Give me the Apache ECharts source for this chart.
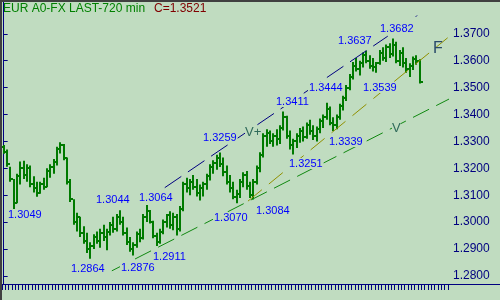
<!DOCTYPE html>
<html>
<head>
<meta charset="utf-8">
<script src="https://cdn.jsdelivr.net/npm/echarts@6/dist/echarts.min.js"></script>
<style>
  html, body { margin: 0; padding: 0; background: #c0dcc0; }
  #chart { width: 500px; height: 300px; }
</style>
</head>
<body>
<div id="chart"></div>
<script>
// 720 min bars
const opens = [
  1.3280, 1.3262, 1.3215, 1.3160, 1.3070, 1.3170, 1.3200, 1.3175, 1.3200, 1.3140,
  1.3125, 1.3110, 1.3140, 1.3130, 1.3190, 1.3205, 1.3225, 1.3270, 1.3285, 1.3240,
  1.3150, 1.3085, 1.3000, 1.3020, 1.2960, 1.2930, 1.2900, 1.2910, 1.2945, 1.2930,
  1.2960, 1.2945, 1.2965, 1.2990, 1.2975, 1.3020, 1.3000, 1.2960, 1.2925, 1.2900,
  1.2915, 1.2955, 1.2940, 1.3020, 1.3040, 1.3000, 1.2950, 1.2925, 1.2965, 1.3000,
  1.3025, 1.2990, 1.3020, 1.2975, 1.3050, 1.3140, 1.3125, 1.3150, 1.3130, 1.3110,
  1.3125, 1.3140, 1.3170, 1.3205, 1.3220, 1.3240, 1.3215, 1.3185, 1.3150, 1.3125,
  1.3095, 1.3105, 1.3150, 1.3175, 1.3135, 1.3100, 1.3150, 1.3200, 1.3250, 1.3320,
  1.3330, 1.3300, 1.3320, 1.3310, 1.3350, 1.3390, 1.3320, 1.3285, 1.3300, 1.3320,
  1.3340, 1.3315, 1.3360, 1.3340, 1.3320, 1.3345, 1.3375, 1.3390, 1.3420, 1.3370,
  1.3360, 1.3390, 1.3430, 1.3460, 1.3500, 1.3540, 1.3580, 1.3570, 1.3590, 1.3620,
  1.3600, 1.3580, 1.3575, 1.3590, 1.3630, 1.3610, 1.3650, 1.3625, 1.3660, 1.3600,
  1.3630, 1.3590, 1.3570, 1.3580, 1.3605, 1.3600
]
const closes = [
  1.3262, 1.3215, 1.3160, 1.3070, 1.3170, 1.3200, 1.3175, 1.3200, 1.3140, 1.3125,
  1.3110, 1.3140, 1.3130, 1.3190, 1.3205, 1.3225, 1.3270, 1.3285, 1.3240, 1.3150,
  1.3085, 1.3000, 1.3020, 1.2960, 1.2930, 1.2900, 1.2910, 1.2945, 1.2930, 1.2960,
  1.2945, 1.2965, 1.2990, 1.2975, 1.3020, 1.3000, 1.2960, 1.2925, 1.2900, 1.2915,
  1.2955, 1.2940, 1.3020, 1.3040, 1.3000, 1.2950, 1.2925, 1.2965, 1.3000, 1.3025,
  1.2990, 1.3020, 1.2975, 1.3050, 1.3140, 1.3125, 1.3150, 1.3130, 1.3110, 1.3125,
  1.3140, 1.3170, 1.3205, 1.3220, 1.3240, 1.3215, 1.3185, 1.3150, 1.3125, 1.3095,
  1.3105, 1.3150, 1.3175, 1.3135, 1.3100, 1.3150, 1.3200, 1.3250, 1.3320, 1.3330,
  1.3300, 1.3320, 1.3310, 1.3350, 1.3390, 1.3320, 1.3285, 1.3300, 1.3320, 1.3340,
  1.3315, 1.3360, 1.3340, 1.3320, 1.3345, 1.3375, 1.3390, 1.3420, 1.3370, 1.3360,
  1.3390, 1.3430, 1.3460, 1.3500, 1.3540, 1.3580, 1.3570, 1.3590, 1.3620, 1.3600,
  1.3580, 1.3575, 1.3590, 1.3630, 1.3610, 1.3650, 1.3625, 1.3660, 1.3600, 1.3630,
  1.3590, 1.3570, 1.3580, 1.3605, 1.3600, 1.3521
]
const lows = [
  1.3254, 1.3206, 1.3150, 1.3049, 1.3070, 1.3140, 1.3160, 1.3150, 1.3130, 1.3110,
  1.3094, 1.3105, 1.3120, 1.3130, 1.3165, 1.3180, 1.3210, 1.3255, 1.3230, 1.3140,
  1.3075, 1.2990, 1.2965, 1.2945, 1.2920, 1.2885, 1.2864, 1.2900, 1.2920, 1.2905,
  1.2930, 1.2895, 1.2950, 1.2960, 1.2965, 1.2990, 1.2950, 1.2915, 1.2890, 1.2876,
  1.2905, 1.2925, 1.2935, 1.3000, 1.2995, 1.2940, 1.2911, 1.2920, 1.2955, 1.2980,
  1.2975, 1.2970, 1.2950, 1.2965, 1.3040, 1.3110, 1.3100, 1.3120, 1.3095, 1.3080,
  1.3095, 1.3120, 1.3155, 1.3180, 1.3195, 1.3205, 1.3170, 1.3140, 1.3110, 1.3085,
  1.3070, 1.3090, 1.3130, 1.3120, 1.3090, 1.3084, 1.3140, 1.3185, 1.3240, 1.3280,
  1.3290, 1.3280, 1.3285, 1.3290, 1.3340, 1.3310, 1.3270, 1.3251, 1.3275, 1.3295,
  1.3300, 1.3310, 1.3325, 1.3305, 1.3300, 1.3330, 1.3350, 1.3380, 1.3360, 1.3339,
  1.3345, 1.3380, 1.3415, 1.3450, 1.3490, 1.3530, 1.3560, 1.3545, 1.3575, 1.3590,
  1.3570, 1.3560, 1.3555, 1.3585, 1.3600, 1.3595, 1.3610, 1.3615, 1.3590, 1.3580,
  1.3575, 1.3555, 1.3539, 1.3565, 1.3585, 1.3515
]
const highs = [
  1.3287, 1.3270, 1.3206, 1.3160, 1.3180, 1.3225, 1.3228, 1.3215, 1.3210, 1.3170,
  1.3150, 1.3150, 1.3165, 1.3200, 1.3215, 1.3235, 1.3280, 1.3297, 1.3290, 1.3240,
  1.3160, 1.3085, 1.3035, 1.3020, 1.2985, 1.2960, 1.2925, 1.2955, 1.2965, 1.2975,
  1.2990, 1.2975, 1.3000, 1.3020, 1.3030, 1.3044, 1.3020, 1.2980, 1.2945, 1.2925,
  1.2965, 1.2975, 1.3030, 1.3064, 1.3045, 1.3005, 1.2960, 1.2975, 1.3010, 1.3030,
  1.3040, 1.3035, 1.3030, 1.3060, 1.3150, 1.3165, 1.3160, 1.3175, 1.3160, 1.3140,
  1.3150, 1.3180, 1.3215, 1.3230, 1.3250, 1.3259, 1.3240, 1.3210, 1.3175, 1.3150,
  1.3120, 1.3160, 1.3185, 1.3190, 1.3150, 1.3160, 1.3210, 1.3260, 1.3330, 1.3345,
  1.3340, 1.3330, 1.3345, 1.3360, 1.3411, 1.3395, 1.3340, 1.3310, 1.3330, 1.3350,
  1.3355, 1.3370, 1.3380, 1.3360, 1.3355, 1.3385, 1.3400, 1.3444, 1.3430, 1.3390,
  1.3400, 1.3440, 1.3470, 1.3510, 1.3550, 1.3595, 1.3610, 1.3600, 1.3630, 1.3637,
  1.3620, 1.3610, 1.3595, 1.3640, 1.3650, 1.3660, 1.3665, 1.3682, 1.3670, 1.3640,
  1.3650, 1.3610, 1.3590, 1.3615, 1.3620, 1.3605
]
const slotCount = 134 // bar slots on the time axis, the last ones still empty
const priceTicks = [1.28, 1.29, 1.30, 1.31, 1.32, 1.33, 1.34, 1.35, 1.36, 1.37]

// trend lines: [bar index, price]
const upperLine = [[48.4, 1.3128], [115.4, 1.3691]]
const upperTip = [[123.8, 1.3763], [124.2, 1.3768]]
const midLine = [[73.4, 1.3078], [133.4, 1.3685]]
const lowerLine = [[32.5, 1.2819], [149.0, 1.3553]]

// price notes: [text, left, middle y]
const notes = [
  ['1.3049', 7, 215], ['1.2864', 70, 269], ['1.3044', 95, 200], ['1.2876', 120, 268],
  ['1.3064', 138, 198], ['1.2911', 152, 257], ['1.3070', 213, 218], ['1.3084', 255, 211],
  ['1.3259', 202, 138], ['1.3251', 288, 164], ['1.3339', 328, 142], ['1.3411', 275, 102],
  ['1.3444', 308, 88], ['1.3539', 362, 88], ['1.3637', 337, 41], ['1.3682', 379, 29]
]

const bg = '#c0dcc0'
const navy = '#000080'
const barColor = '#007a00'
const font = '"Liberation Sans", Arial, sans-serif'

const slots = []
for (let i = 0; i < slotCount; i++) slots.push(String(i))
const bars = highs.map((h, i) => [i, opens[i], closes[i], lows[i], h])

// one OHLC bar: range stroke, open tick left, close tick right
function renderOhlc (params, api) {
  const x = api.value(0)
  const o = api.coord([x, api.value(1)])
  const c = api.coord([x, api.value(2)])
  const l = api.coord([x, api.value(3)])
  const h = api.coord([x, api.value(4)])
  const px = Math.round(o[0])
  const style = { fill: barColor }
  return {
    type: 'group',
    children: [
      { type: 'rect', shape: { x: px - 1, y: h[1], width: 2, height: Math.max(2, l[1] - h[1]) }, style: style },
      { type: 'rect', shape: { x: px - 3, y: Math.round(o[1]) - 1, width: 2, height: 2 }, style: style },
      { type: 'rect', shape: { x: px + 1, y: Math.round(c[1]) - 1, width: 2, height: 2 }, style: style }
    ]
  }
}

function trend (data, color, dash) {
  return {
    type: 'line',
    xAxisIndex: 1,
    data: data,
    symbol: 'none',
    clip: false,
    silent: true,
    z: 3,
    lineStyle: { color: color, width: 1, type: dash }
  }
}

const graphics = [
  { type: 'rect', shape: { x: 0, y: 0, width: 500, height: 2 }, style: { fill: '#404040' }, z: 100 },
  { type: 'rect', shape: { x: 0, y: 0, width: 2, height: 300 }, style: { fill: '#404040' }, z: 100 },
  { type: 'line', shape: { x1: 448, y1: 284.5, x2: 500, y2: 284.5 }, style: { stroke: navy, lineWidth: 1 }, z: 100 },
  { type: 'text', x: 3, y: 3, style: { text: 'EUR A0-FX LAST-720 min', fill: '#008000', font: '12px ' + font }, z: 100 },
  { type: 'text', x: 154, y: 3, style: { text: 'C=1.3521', fill: '#800000', font: '12px ' + font }, z: 100 },
  { type: 'text', x: 245, y: 126, style: { text: 'V+', fill: '#2f6a5a', font: '13px ' + font, backgroundColor: bg }, z: 100 },
  { type: 'text', x: 392, y: 122, style: { text: 'V', fill: '#2f6a5a', font: '13px ' + font, backgroundColor: bg }, z: 100 },
  { type: 'text', x: 433, y: 41, style: { text: 'F', fill: '#2a4a6a', font: '16px ' + font }, z: 100 }
]
notes.forEach(function (n) {
  graphics.push({
    type: 'text',
    x: n[1],
    y: n[2] - 6,
    z: 100,
    style: { text: n[0], fill: '#0000ff', font: '11px ' + font, backgroundColor: bg, padding: [0, 1] }
  })
})

const option = {
  backgroundColor: bg,
  animation: false,
  grid: { left: 2, right: 52, top: 2, bottom: 16, containLabel: false, outerBoundsMode: 'none' },
  xAxis: [
    {
      type: 'category',
      data: slots,
      boundaryGap: true,
      axisLine: { show: true, lineStyle: { color: navy, width: 1 } },
      axisTick: { show: true, interval: 0, length: 6, lineStyle: { color: navy } },
      axisLabel: { show: false },
      splitLine: { show: false }
    },
    { type: 'value', min: -0.5, max: slotCount - 0.5, show: false }
  ],
  yAxis: {
    type: 'value',
    position: 'right',
    min: 1.2770,
    max: 1.3818,
    axisLine: { show: true, lineStyle: { color: navy, width: 1 } },
    axisTick: { show: true, length: 4, inside: false, customValues: priceTicks, lineStyle: { color: navy } },
    axisLabel: {
      customValues: priceTicks,
      margin: 5,
      color: navy,
      fontSize: 12,
      fontFamily: font,
      formatter: function (v) { return v.toFixed(4) }
    },
    splitLine: { show: false }
  },
  series: [
    {
      type: 'custom',
      data: bars,
      renderItem: renderOhlc,
      encode: { x: 0, y: [1, 2, 3, 4] },
      z: 2,
      silent: true
    },
    trend(upperLine, navy, [20, 8]),
    trend(upperTip, navy, 'solid'),
    trend(midLine, '#909000', [18, 9]),
    trend(lowerLine, '#108810', [18, 8])
  ],
  graphic: graphics
}

const chart = echarts.init(document.getElementById('chart'), null, { renderer: 'canvas' })
chart.setOption(option)
</script>
</body>
</html>
